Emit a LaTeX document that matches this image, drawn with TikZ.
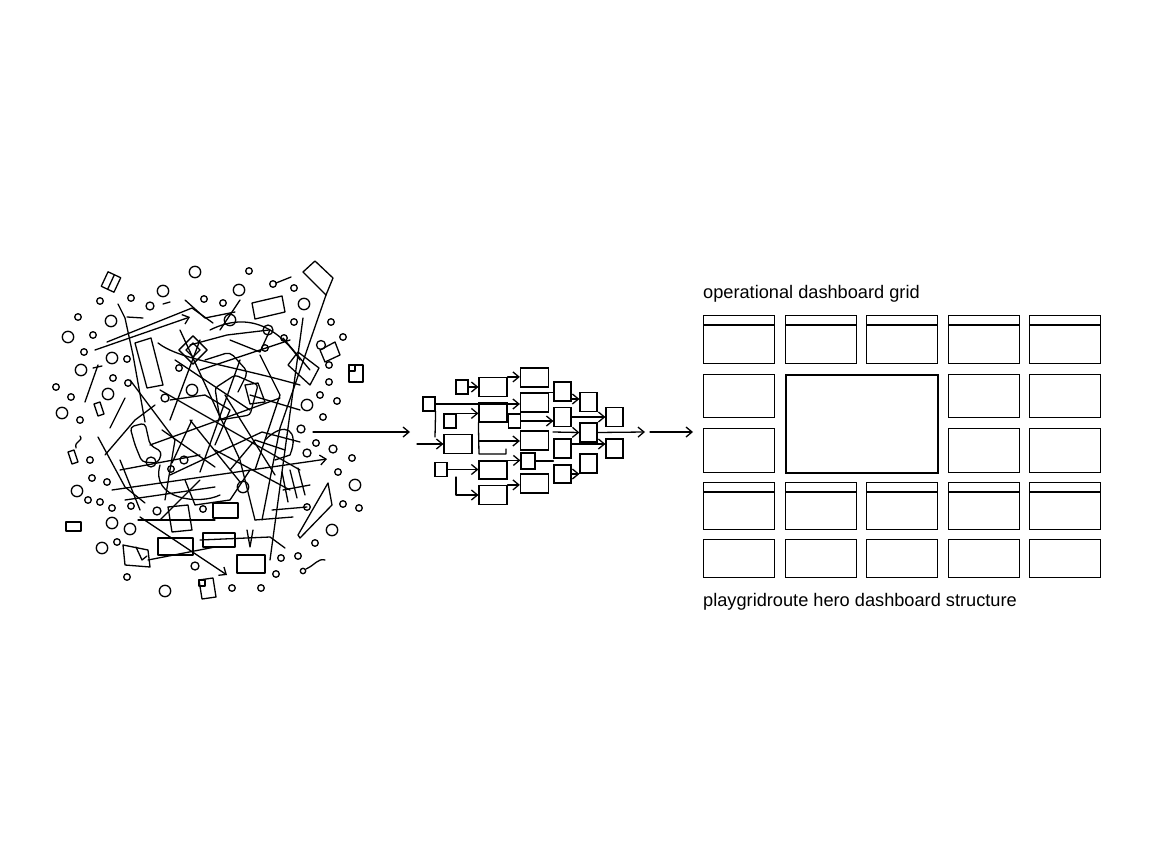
\documentclass[tikz,border=0pt]{standalone}
\usepackage{fontspec}
\setmainfont{Liberation Sans}
\usetikzlibrary{arrows.meta}

\tikzstyle{ink}=[line width=1.3pt, line join=round, line cap=round]
\tikzstyle{arrow}=[ink, -{Straight Barb[length=6pt,width=10pt]}]
\tikzstyle{wide}=[draw, line width=1.2pt, inner sep=0pt, minimum width=28pt, minimum height=19pt]
\tikzstyle{mid}=[draw, line width=1.2pt, inner sep=0pt, minimum width=17pt, minimum height=19pt]
\tikzstyle{tiny}=[draw, line width=1.2pt, inner sep=0pt, minimum width=12pt, minimum height=14pt]
\tikzstyle{panel}=[draw, line width=1.4pt, inner sep=0pt, minimum width=71pt, anchor=north west]
\tikzstyle{caption}=[anchor=base west, inner sep=0pt, font=\fontsize{18.2}{22}\selectfont]

\begin{document}
\begin{tikzpicture}[x=1pt, y=-1pt]
  \useasboundingbox (0,0) rectangle (1152,864);

  % the mess
  \foreach \x/\y/\r in {195/272/5.7, 249/271/3.3, 163/291/5.7, 100/301/3.3, 131/298/3.3,
      150/306/4, 204/299/3.3, 223/303/3.3, 239/290/5.7, 273/284/3.3, 294/288/3.3,
      304/304/5.7, 78/317/3.3, 111/321/5.7, 230/320/5.7, 294/322/3.3, 331/322/3.3,
      68/337/5.7, 93/335/3.3, 268/330/5, 284/338/3.3, 343/337/3.3, 84/352/3.3,
      112/358/5.7, 127/359/3.3, 179/368/3.3, 81/370/5.7, 113/378/3.3, 128/383/3.3,
      265/348/3.3, 329/365/3.3, 56/387/3.3, 71/397/3.3, 108/394/5.7, 329/382/3.3,
      165/398/4, 192/390/5.7, 320/395/3.3, 337/401/3.3, 62/413/5.7, 80/420/3.3,
      307/405/5.7, 323/417/3.3, 301/429/4, 316/443/3.3, 90/460/3.3, 307/453/4,
      333/449/4, 352/458/3.3, 151/462/5, 171/469/3.3, 184/460/4, 92/478/3.3,
      107/482/3.3, 77/491/5.7, 338/472/3.3, 355/485/5.7, 88/500/3.3, 100/502/3.3,
      112/508/3.3, 131/506/3.3, 157/511/4, 203/509/3.3, 243/487/5.7, 307/507/3.3,
      343/504/3.3, 359/508/3.3, 112/523/5.7, 130/529/5.7, 102/548/5.7, 117/542/3.3,
      332/530/5.7, 315/543/3.3, 281/558/3.3, 298/556/3.3, 195/566/4, 127/577/3.3,
      165/591/5.7, 232/588/3.3, 261/588/3.3, 276/574/3.3, 303/571/2.7, 321/345/4.5}
    \draw[ink] (\x,\y) circle[radius=\r pt];

  \draw[arrow] (95,350) -- (190,317);
  \draw[ink] (107,342) -- (192,308) -- (213,323);
  \draw[ink] (118,304) -- (125,318) -- (133,355) -- (145,422);
  \draw[ink] (127,317) -- (143,318);
  \draw[ink] (135,343) -- (151,338) -- (163,385) -- (147,388) -- cycle;
  \draw[ink] (158,343) .. controls (180,360) and (230,365) .. (300,385);
  \draw[ink, rotate around={45:(193,350)}] (183,340) rectangle (203,360);
  \draw[ink, rotate around={45:(193,350)}] (188,345) rectangle (198,355);
  \draw[ink] (85,402) -- (98,365);
  \draw[ink] (93,368) -- (102,366);
  \draw[ink] (125,398) -- (110,428);
  \draw[ink] (303,272) -- (315,261) -- (333,278) -- (326,295) -- cycle;
  \draw[ink] (326,295) -- (280,428) -- (262,520);
  \draw[ink] (303,318) -- (288,428) -- (270,560);
  \draw[ink] (252,303) -- (282,296) -- (285,312) -- (255,319) -- cycle;
  \draw[ink] (276,283) -- (291,277);
  \draw[ink] (269,330) -- (227,335) -- (190,345);
  \draw[ink] (283,338) -- (310,370);
  \draw[ink] (288,365) -- (298,352) -- (319,368) -- (310,385) -- cycle;
  \draw[ink] (320,350) -- (335,342) -- (340,355) -- (325,362) -- cycle;
  \draw[ink] (349,365) rectangle (363,382);
  \draw[ink] (349,365) rectangle (355,371);
  \draw[ink] (245,385) -- (258,383) -- (265,402) -- (250,404) -- cycle;
  \draw[ink, rounded corners=4pt] (130,427) -- (145,423) -- (150,445) -- (162,452) -- (158,463) -- (142,462) -- (135,445) -- cycle;
  \draw[ink] (168,507) -- (188,505) -- (192,530) -- (172,532) -- cycle;
  \draw[ink] (158,538) rectangle (193,555);
  \draw[ink] (123,545) -- (148,550) -- (150,567) -- (125,565) -- cycle;
  \draw[ink] (136,547) -- (142,560) -- (147,556);
  \draw[ink] (138,520) -- (215,520);
  \draw[arrow] (112,490) -- (327,459);
  \draw[ink] (125,500) -- (215,487);
  \draw[ink] (98,437) -- (125,487) -- (145,503);
  \draw[ink] (76,448) .. controls (74,440) and (84,442) .. (80,436);
  \draw[ink] (162,430) -- (215,467);
  \draw[ink] (192,420) -- (172,463);
  \draw[ink] (148,560) -- (215,547);
  \draw[ink] (282,472) -- (288,502);
  \draw[ink] (290,470) -- (297,498);
  \draw[ink] (298,468) -- (305,495);
  \draw[ink] (283,490) -- (310,485);
  \draw[ink] (213,503) rectangle (238,518);
  \draw[ink] (203,533) rectangle (235,547);
  \draw[ink] (237,555) rectangle (265,573);
  \draw[arrow] (140,517) -- (227,575);
  \draw[ink] (255,520) -- (293,517);
  \draw[ink] (272,510) -- (307,507);
  \draw[ink] (200,540) -- (270,537) -- (285,548);
  \draw[ink] (247,530) -- (250,547) -- (253,530);
  \draw[ink] (328,483) -- (332,505) -- (300,538) -- (298,535) -- cycle;
  \draw[ink] (306,569) .. controls (315,565) and (318,558) .. (325,560);
  \draw[ink] (199,580) -- (213,578) -- (216,597) -- (202,599) -- cycle;
  \draw[ink] (199,580) rectangle (205,586);
  \draw[ink] (66,522) rectangle (81,531);
  \draw[ink, rotate around={-25:(111,282)}] (104,274) rectangle (118,290);
  \draw[ink, rotate around={-25:(111,282)}] (111,274) -- (111,290);
  \draw[ink] (94,404) -- (100,402) -- (104,414) -- (98,416) -- cycle;
  \draw[ink] (68,452) -- (74,450) -- (78,462) -- (72,464) -- cycle;
  \draw[ink] (160,390) -- (230,430) -- (300,470);
  \draw[ink] (180,330) -- (240,460) -- (255,520);
  \draw[ink] (200,370) -- (290,340);
  \draw[ink] (150,445) -- (280,398);
  \draw[ink] (170,475) -- (262,432) -- (300,442);
  \draw[ink, rounded corners=3pt] (215,388) -- (235,375) -- (258,385) -- (250,415) -- (220,420) -- cycle;
  \draw[ink] (190,420) -- (240,482);
  \draw[ink] (225,395) -- (275,475);
  \draw[ink] (240,360) -- (200,472);
  \draw[ink] (210,330) .. controls (250,310) and (280,330) .. (300,360);
  \draw[ink] (170,400) -- (205,395) -- (230,410) -- (215,445);
  \draw[ink] (260,355) -- (280,395) -- (255,470);
  \draw[ink] (185,480) -- (195,505) -- (230,500) -- (250,470);
  \draw[ink] (160,465) .. controls (150,500) and (200,505) .. (220,495);
  \draw[ink] (265,440) .. controls (285,420) and (300,430) .. (290,455) -- (275,460);
  \draw[ink] (230,340) -- (260,352) -- (270,330);
  \draw[ink] (120,460) -- (140,510);
  \draw[ink] (105,455) -- (135,420) -- (155,405);
  \draw[ink] (240,300) -- (220,330);
  \draw[ink] (163,304) -- (170,302);
  \draw[ink] (130,380) -- (175,440) -- (165,500);
  \draw[ink] (200,340) -- (170,420);
  \draw[ink] (250,395) -- (300,410);
  \draw[ink] (215,450) -- (290,490);
  \draw[ink] (175,360) -- (250,410);
  \draw[ink] (120,470) -- (200,455);
  \draw[ink] (230,470) -- (255,440) -- (285,450);
  \draw[ink] (160,520) -- (200,480);
  \draw[ink] (185,300) -- (205,318) -- (235,312);
  \draw[ink, rounded corners=5pt] (205,360) -- (230,352) -- (248,372) -- (238,392);

  % the flow
  \node[tiny] (a1) at (462,387) {};
  \node[wide] (a2) at (493,387) {};
  \node[wide] (a3) at (534.5,377.5) {};
  \node[tiny] (a4) at (429,404) {};
  \node[wide] (a5) at (534.5,402.5) {};
  \node[wide] (a6) at (493,412.5) {};
  \node[tiny] (a7) at (450,421) {};
  \node[wide] (a8) at (458,444) {};
  \node[wide] (a9) at (534.5,440.5) {};
  \node[tiny] (a10) at (514.5,421) {};
  \node[tiny] (a11) at (441,469.5) {};
  \node[mid] (a12) at (562.5,391.5) {};
  \node[wide, minimum height=18pt] (a13) at (493,470) {};
  \node[mid] (a14) at (588.5,402) {};
  \node[tiny, minimum width=14pt, minimum height=16pt] (a15) at (528,461) {};
  \node[mid] (a16) at (562.5,417) {};
  \node[mid] (a17) at (614.5,417) {};
  \node[mid] (a18) at (588.5,432.5) {};
  \node[mid] (a19) at (562.5,448.5) {};
  \node[mid] (a20) at (614.5,448.5) {};
  \node[mid, minimum height=18pt] (a21) at (562.5,474) {};
  \node[mid] (a22) at (588.5,463.5) {};
  \node[wide] (a23) at (534.5,483.5) {};
  \node[wide] (a24) at (493,495) {};

  \coordinate (mess) at (313,432);
  \coordinate (flow) at (410,432);
  \coordinate (feed) at (417,444);
  \coordinate (drop) at (456,477);
  \coordinate (tap) at (553,432);
  \coordinate (done) at (645,432);
  \coordinate (grid) at (650,432);
  \coordinate (gate) at (693,432);

  \draw[arrow] (mess) -- (flow);
  \draw[arrow] (feed) -- (a8.west);
  \draw[arrow] (a1) -- (a2);
  \draw[arrow] (a2.north east) -- (a2.north east -| a3.west);
  \draw[arrow] (a4.east) -- (a4.east -| a5.west);
  \draw[ink] (a4.south east) -- (435,437);
  \draw[arrow] (a7.north) -- (a7.north -| a6.west);
  \draw[ink] (a6.south west) -- (479,454) -- (506,454) -- (506,449);
  \draw[arrow] (479,441) -- (479,441 -| a9.west);
  \draw[ink] (a5.north east) -- (a5.north east -| a12.west);
  \draw[arrow] (a10.east) -- (a10.east -| a16.west);
  \draw[arrow] (571,399) -- (571,399 -| a14.west);
  \draw[arrow] (a16.east) -- (a17.west);
  \draw[arrow] (tap) -- (a18.west);
  \draw[arrow] (a18.east) -- (done);
  \draw[arrow] (grid) -- (gate);
  \draw[arrow] (571,444) -- (571,444 -| a20.west);
  \draw[ink] (a15.east) -- (a15.east -| a21.west);
  \draw[arrow] (a21.east) -- (a21.east -| a22.west);
  \draw[arrow] (a13.north east) -- (a13.north east -| a15.west);
  \draw[arrow] (a24.north east) -- (a24.north east -| a23.west);
  \draw[arrow] (a11.east) -- (a11.east -| a13.west);
  \draw[arrow] (drop) -- (456,495) -- (a24.west);

  % the dashboard
  \node[caption] (title) at (703,298) {operational dashboard grid};
  \foreach \c/\x in {1/703, 2/785, 3/866, 4/948, 5/1029} {
    \node[panel, minimum height=48pt] (t\c) at (\x,315) {};
    \draw[line width=1.4pt] ([yshift=-10pt]t\c.north west) -- ([yshift=-10pt]t\c.north east);
    \node[panel, minimum height=47pt] (m\c) at (\x,482) {};
    \draw[line width=1.4pt] ([yshift=-10pt]m\c.north west) -- ([yshift=-10pt]m\c.north east);
    \node[panel, minimum height=38pt] (b\c) at (\x,539) {};
  }
  \foreach \c/\x in {1/703, 4/948, 5/1029} {
    \node[panel, minimum height=43pt] (u\c) at (\x,374) {};
    \node[panel, minimum height=44pt] (l\c) at (\x,428) {};
  }
  \node[panel, line width=2.2pt, minimum width=152pt, minimum height=98pt] (hero) at (785,374) {};
  \node[caption] (note) at (703,606) {playgridroute hero dashboard structure};
\end{tikzpicture}
\end{document}
